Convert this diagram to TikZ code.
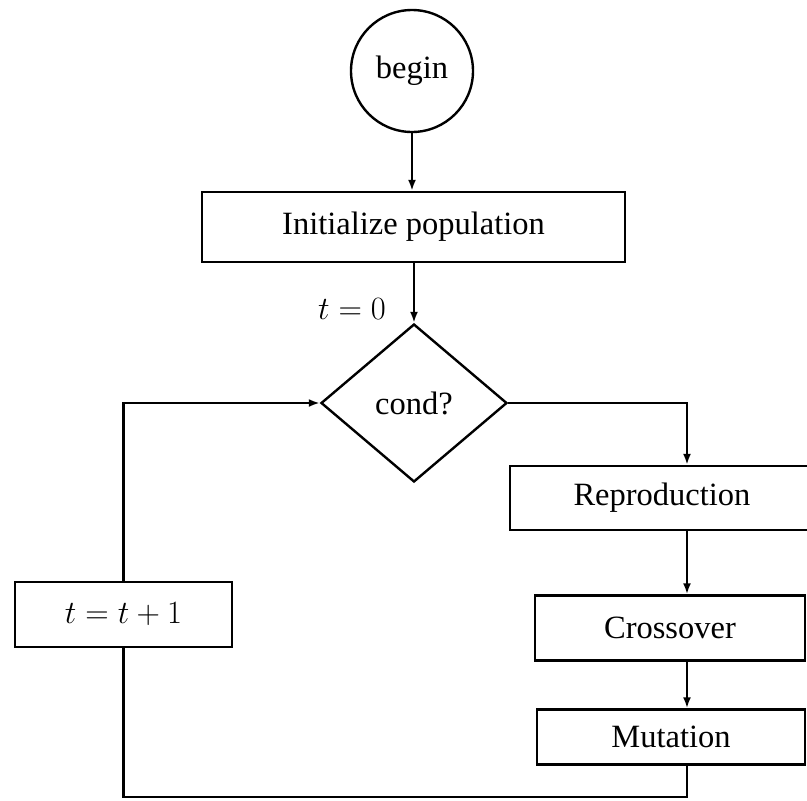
\documentclass[tikz,border=0pt]{standalone}
\usepackage{fontspec}
\setmainfont{Liberation Serif}
\usetikzlibrary{shapes.geometric,arrows.meta,calc}
\newcommand{\bigmath}[1]{{\fontsize{24.88}{30}\selectfont\scalebox{1.306}{$#1$}}}
\begin{document}
\begin{tikzpicture}[x=1pt,y=-1pt,
  every node/.style={font=\fontsize{32.5}{39}\selectfont},
  line/.style={line width=2.4pt},
  arr/.style={line width=2.4pt,-{Latex[length=11pt,width=8pt]}},
  procbox/.style={draw,line width=2.4pt,rectangle,inner sep=0pt,anchor=center},
  decbox/.style={draw,line width=2.4pt,diamond,inner sep=0pt,minimum width=186pt,minimum height=158pt},
  startbox/.style={draw,line width=2.4pt,circle,inner sep=0pt,minimum size=122pt}]
\useasboundingbox (0,0) rectangle (807,801);
\clip (0,0) rectangle (807,801);
\node[startbox] (begin) at (412,71) {begin};
\node[procbox,minimum width=423pt,minimum height=70pt] (init) at (413.5,227) {Initialize population};
\node[decbox] (cond) at (414,403) {cond?};
\node (t0) at (352,309) {\bigmath{t=0}};
\node[procbox,minimum width=304pt,minimum height=64pt] (repro) at (662,498) {Reproduction};
\node[procbox,minimum width=270pt,minimum height=65pt] (cross) at (670,628) {Crossover};
\node[procbox,minimum width=268pt,minimum height=55pt] (mut) at (671,737) {Mutation};
\node[procbox,minimum width=217pt,minimum height=65pt] (tinc) at (123.5,614.5) {\bigmath{t=t+1}};
\coordinate (colx) at (687,0);
\coordinate (bot) at (400,797);
\draw[arr] (begin.south) -- (begin.south |- init.north);
\draw[arr] (cond.north |- init.south) -- (cond.north);
\draw[arr] (cond.east) -| (colx |- repro.north);
\draw[arr] (colx |- repro.south) -- (colx |- cross.north);
\draw[arr] (colx |- cross.south) -- (colx |- mut.north);
\draw[line] (colx |- mut.south) -- (colx |- bot) -| (tinc.south);
\draw[arr] (tinc.north) |- (cond.west);
\end{tikzpicture}
\end{document}
